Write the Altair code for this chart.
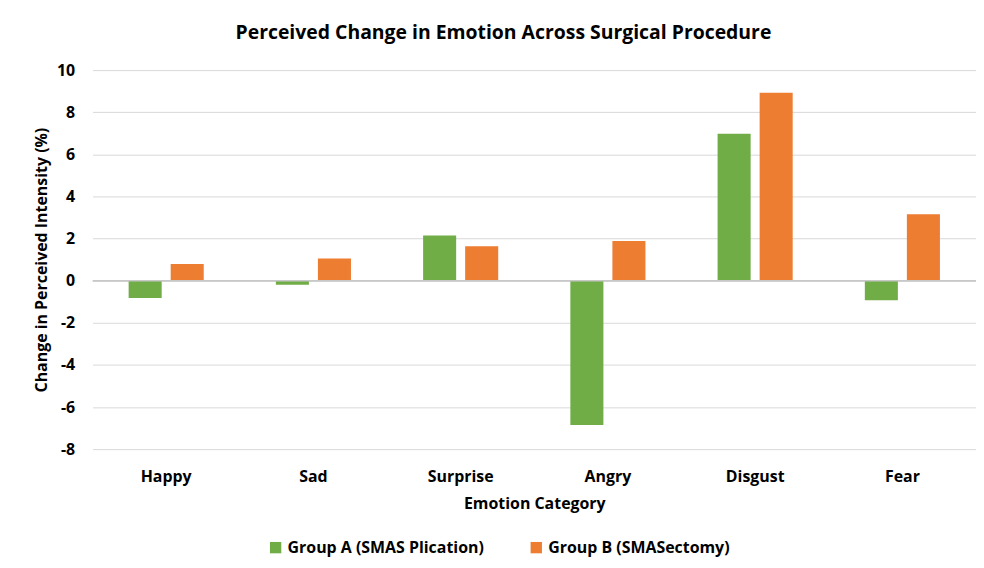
import altair as alt
import pandas as pd

categories = ["Happy", "Sad", "Surprise", "Angry", "Disgust", "Fear"]
groups = ["Group A (SMAS Plication)", "Group B (SMASectomy)"]
group_a = [-0.82, -0.19, 2.15, -6.85, 6.98, -0.93]
group_b = [0.79, 1.05, 1.64, 1.89, 8.93, 3.15]
colors = ["#70AD47", "#ED7D31"]

rows = []
for c, a, b in zip(categories, group_a, group_b):
    rows.append({"Emotion": c, "Group": groups[0], "Value": a})
    rows.append({"Emotion": c, "Group": groups[1], "Value": b})
df = pd.DataFrame(rows)

FONT = "Open Sans"
FS = 16

bars = alt.Chart(df).mark_bar().encode(
    x=alt.X("Emotion:N", sort=categories,
            scale=alt.Scale(paddingInner=0.49, paddingOuter=0.245),
            axis=alt.Axis(title="Emotion Category", labelAngle=0, ticks=False, domain=False,
                          labelPadding=20, labelFontSize=FS, labelFontWeight="bold",
                          labelColor="#000000", titleFontSize=FS, titleFontWeight="bold",
                          titleColor="#000000", titlePadding=11, labelFont=FONT, titleFont=FONT)),
    xOffset=alt.XOffset("Group:N", sort=groups,
                        scale=alt.Scale(paddingInner=0.214, paddingOuter=0)),
    y=alt.Y("Value:Q",
            scale=alt.Scale(domain=[-8, 10], nice=False),
            axis=alt.Axis(title="Change in Perceived Intensity (%)", values=list(range(-8, 11, 2)),
                          labelExpr="'' + datum.value",
                          ticks=False, domain=False, gridColor="#d9d9d9", gridWidth=1,
                          labelPadding=18, labelFontSize=FS, labelFontWeight="bold",
                          labelColor="#000000", titleFontSize=FS, titleFontWeight="bold",
                          titleColor="#000000", titlePadding=7, labelFont=FONT, titleFont=FONT)),
    color=alt.Color("Group:N", sort=groups,
                    scale=alt.Scale(domain=groups, range=colors),
                    legend=alt.Legend(title=None, orient="none", legendX=176, legendY=472,
                                      direction="horizontal", symbolType="square",
                                      symbolSize=130, symbolStrokeWidth=0,
                                      labelFontSize=FS, labelFontWeight="bold",
                                      labelColor="#000000", labelFont=FONT, labelLimit=0,
                                      columnPadding=44, symbolOpacity=1)),
)

zero = alt.Chart(pd.DataFrame({"y": [0]})).mark_rule(color="#c8c8c8", strokeWidth=1.5).encode(
    y="y:Q"
)

chart = alt.layer(bars, zero).properties(
    width=888,
    height=381,
    autosize=alt.AutoSizeParams(type="none"),
    padding={"left": 85, "top": 61, "right": 0, "bottom": 110},
    title=alt.Title("Perceived Change in Emotion Across Surgical Procedure",
                    fontSize=19.5, fontWeight="bold", font=FONT, color="#000000",
                    dx=-31, offset=19),
).configure_view(stroke=None)

chart.save("out.html", embed_options={"renderer": "svg", "actions": False})
